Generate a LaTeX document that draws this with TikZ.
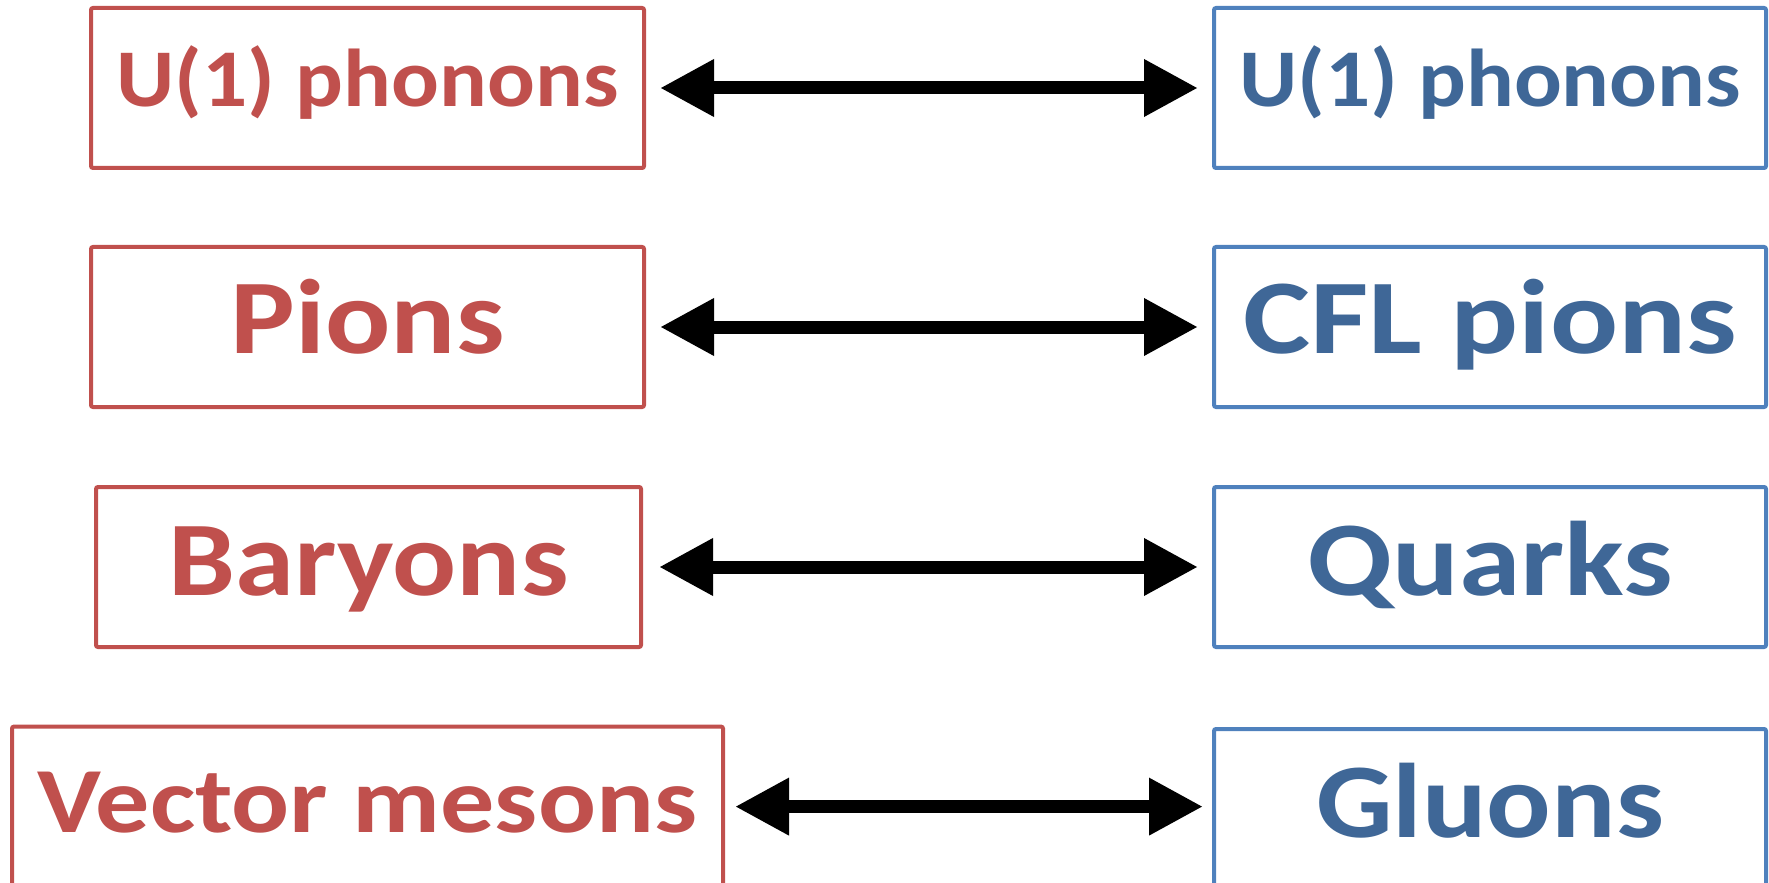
\documentclass[tikz,border=0pt]{standalone}
\usepackage{fontspec}
\setmainfont{Carlito}
\usetikzlibrary{arrows.meta,positioning}
\definecolor{hadronred}{HTML}{C0504D}
\definecolor{quarkblue}{HTML}{4F81BD}
\definecolor{quarktext}{HTML}{3F6797}
\newcommand{\boxtext}[3]{\resizebox{#1}{\height}{\fontsize{#2}{#2}\selectfont\bfseries #3}}

\begin{document}
\begin{tikzpicture}[x=0.5pt,y=-0.5pt,node distance=37.5pt,
 hadron/.style={draw=hadronred,line width=2pt,text=hadronred,inner sep=0pt,
 minimum width=276.5pt,minimum height=80pt,rounded corners=1pt,text depth=0pt},
 quark/.style={draw=quarkblue,line width=2pt,text=quarktext,inner sep=0pt,
 minimum width=276pt,minimum height=80pt,rounded corners=1pt,text depth=0pt},
 dual/.style={{Triangle[length=27pt,width=27pt]}-{Triangle[length=27pt,width=27pt]},
 line width=6.5pt,shorten <=7pt,shorten >=7pt}]

  \useasboundingbox (0,0) rectangle (1769,883);

  % quark side
  \node[quark,text height=19pt] (b1) at (1490,88) {\boxtext{251pt}{41pt}{U(1) phonons}};
  \node[quark,text height=26.5pt,below=of b1] (b2) {\boxtext{247pt}{53pt}{CFL pions}};
  \node[quark,text height=28pt,below=38pt of b2] (b3) {\boxtext{183pt}{53pt}{Quarks}};
  \node[quark,text height=28pt,below=39pt of b3] (b4) {\boxtext{174pt}{53pt}{Gluons}};

  % hadron side
  \node[hadron,text height=19pt,left=283pt of b1] (r1) {\boxtext{251pt}{41pt}{U(1) phonons}};
  \node[hadron,text height=26.5pt,left=283pt of b2] (r2) {\boxtext{137pt}{53pt}{Pions}};
  \node[hadron,text height=28pt,minimum width=272.5pt,left=284.5pt of b3] (r3) {\boxtext{200pt}{53pt}{Baryons}};
  \node[hadron,text height=26pt,minimum width=355.5pt,left=243.5pt of b4,yshift=1.2pt] (r4) {\boxtext{330pt}{46.6pt}{Vector mesons}};

  \draw[dual] (r1) -- (b1);
  \draw[dual] (r2) -- (b2);
  \draw[dual,shorten <=8pt] (r3) -- (b3);
  \draw[dual,shorten <=5pt,shorten >=4.5pt] (r4.east) -- (r4.east -| b4.west);
\end{tikzpicture}
\end{document}
